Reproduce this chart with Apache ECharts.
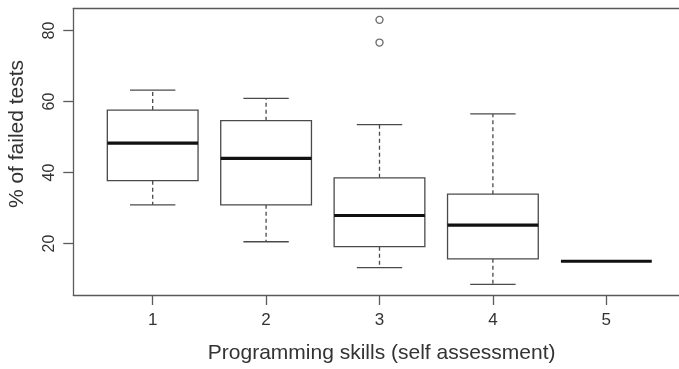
<!DOCTYPE html>
<html>
<head>
<meta charset="utf-8">
<script src="https://cdn.jsdelivr.net/npm/echarts@6/dist/echarts.min.js"></script>
<style>
  html, body { margin: 0; padding: 0; background: #fff; }
  #chart { width: 679px; height: 369px; }
</style>
</head>
<body>
<div id="chart"></div>
<script>
// Self-assessed programming skill levels
const skills = [1, 2, 3, 4, 5];
// Five-number summaries of "% of failed tests" per skill level
const lowerWhisker = [30.9, 20.5, 13.2, 8.5, 15.0];
const lowerQuartile = [37.7, 30.9, 19.1, 15.7, 15.0];
const medians = [48.3, 44.0, 27.9, 25.2, 15.0];
const upperQuartile = [57.6, 54.6, 38.5, 33.9, 15.0];
const upperWhisker = [63.2, 60.9, 53.5, 56.5, 15.0];
// Points beyond the whiskers: [skill, value]
const outliers = [[3, 83.0], [3, 76.6]];
// Axis tick values
const xTicks = [1, 2, 3, 4, 5];
const yTicks = [20, 40, 60, 80];

const FONT = '"Liberation Sans", Arial, Helvetica, sans-serif';
const INK = '#4a4a4a';
const FRAME = '#5a5a5a';
const BOX_WIDTH = 0.8;
const CAP_WIDTH = 0.4;

const boxData = skills.map((s, i) => [
  s, lowerWhisker[i], lowerQuartile[i], medians[i], upperQuartile[i], upperWhisker[i]
]);

function renderBox(params, api) {
  const x = api.value(0);
  const lo = api.coord([x, api.value(1)]);
  const q1 = api.coord([x, api.value(2)]);
  const med = api.coord([x, api.value(3)]);
  const q3 = api.coord([x, api.value(4)]);
  const hi = api.coord([x, api.value(5)]);
  const half = api.size([BOX_WIDTH, 0])[0] / 2;
  const capHalf = api.size([CAP_WIDTH, 0])[0] / 2;
  const cx = lo[0];
  const thin = { stroke: INK, lineWidth: 1.3, fill: null };
  const dashed = { stroke: INK, lineWidth: 1.3, lineDash: [4, 3], fill: null };
  return {
    type: 'group',
    children: [
      { type: 'line', shape: { x1: cx, y1: q3[1], x2: cx, y2: hi[1] }, style: dashed },
      { type: 'line', shape: { x1: cx, y1: q1[1], x2: cx, y2: lo[1] }, style: dashed },
      { type: 'line', shape: { x1: cx - capHalf, y1: hi[1], x2: cx + capHalf, y2: hi[1] }, style: thin },
      { type: 'line', shape: { x1: cx - capHalf, y1: lo[1], x2: cx + capHalf, y2: lo[1] }, style: thin },
      {
        type: 'rect',
        shape: { x: cx - half, y: q3[1], width: half * 2, height: q1[1] - q3[1] },
        style: { stroke: INK, lineWidth: 1.3, fill: '#fff' }
      },
      {
        type: 'line',
        shape: { x1: cx - half, y1: med[1], x2: cx + half, y2: med[1] },
        style: { stroke: '#111', lineWidth: 3.2 }
      }
    ]
  };
}

const chart = echarts.init(document.getElementById('chart'), null, { renderer: 'canvas' });
chart.setOption({
  animation: false,
  backgroundColor: '#fff',
  grid: { left: 73.3, top: 8.5, bottom: 69, right: 0 },
  xAxis: [
    {
      type: 'value', min: 0.3, max: 5.641,
      splitLine: { show: false },
      axisLine: { show: true, onZero: false, lineStyle: { color: FRAME, width: 1.3 } },
      axisTick: { show: true, length: 10, customValues: xTicks, lineStyle: { color: FRAME, width: 1.3 } },
      axisLabel: {
        customValues: xTicks, margin: 17, color: '#333',
        fontFamily: FONT, fontSize: 17
      },
      name: 'Programming skills (self assessment)',
      nameLocation: 'middle', nameGap: 48,
      nameTextStyle: { fontFamily: FONT, fontSize: 21, color: '#333', padding: [0, 0, 0, 11] }
    },
    {
      // top edge of the plot frame
      type: 'value', position: 'top', min: 0.3, max: 5.641,
      splitLine: { show: false },
      axisLine: { show: true, onZero: false, lineStyle: { color: FRAME, width: 1.3 } },
      axisTick: { show: false },
      axisLabel: { show: false }
    }
  ],
  yAxis: {
    type: 'value', min: 5.5, max: 86.2,
    splitLine: { show: false },
    axisLine: { show: true, onZero: false, lineStyle: { color: FRAME, width: 1.3 } },
    axisTick: { show: true, length: 10, customValues: yTicks, lineStyle: { color: FRAME, width: 1.3 } },
    axisLabel: {
      customValues: yTicks, rotate: 90, margin: 16, color: '#333',
      fontFamily: FONT, fontSize: 16
    }
  },
  graphic: [{
    type: 'text',
    x: 17, y: 134,
    rotation: Math.PI / 2,
    style: {
      text: '% of failed tests',
      font: '21px ' + FONT,
      fill: '#333',
      align: 'center',
      verticalAlign: 'middle'
    }
  }],
  series: [
    {
      type: 'custom',
      renderItem: renderBox,
      data: boxData,
      encode: { x: 0, y: [1, 2, 3, 4, 5] },
      clip: false
    },
    {
      type: 'scatter',
      data: outliers,
      symbol: 'circle',
      symbolSize: 7,
      itemStyle: { color: '#fff', borderColor: INK, borderWidth: 1.4 }
    }
  ]
});
</script>
</body>
</html>
